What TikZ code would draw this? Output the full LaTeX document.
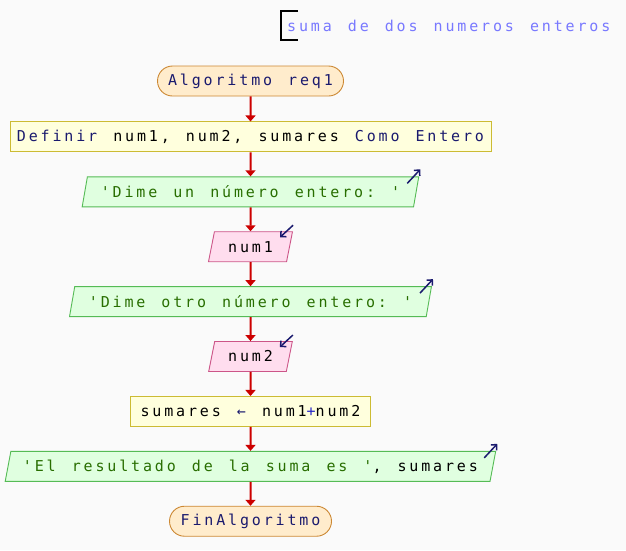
\documentclass[tikz,border=0pt]{standalone}
\usepackage{fontspec}
\setmonofont[LetterSpace=19,WordSpace=1.35]{DejaVu Sans Mono}
\usepackage{xcolor}
\usetikzlibrary{arrows.meta,positioning,shapes.geometric,shapes.misc}
\definecolor{paper}{RGB}{250,250,250}
\definecolor{termfill}{RGB}{255,236,204}
\definecolor{termdraw}{RGB}{204,136,51}
\definecolor{procfill}{RGB}{255,255,221}
\definecolor{procdraw}{RGB}{204,187,51}
\definecolor{outfill}{RGB}{224,255,224}
\definecolor{outdraw}{RGB}{85,187,85}
\definecolor{infill}{RGB}{255,221,238}
\definecolor{indraw}{RGB}{204,85,136}
\definecolor{flowred}{RGB}{204,0,0}
\definecolor{kwnavy}{RGB}{26,26,110}
\definecolor{strgreen}{RGB}{40,110,0}
\definecolor{notecol}{RGB}{120,120,255}
\definecolor{opblue}{RGB}{40,40,200}
\tikzset{
  base/.style={font=\ttfamily\fontsize{15}{17}\selectfont, text=black, minimum height=30pt, inner xsep=5pt, inner ysep=0pt, line width=0.9pt},
  terminal/.style={base, rounded rectangle, draw=termdraw, fill=termfill, text=kwnavy},
  process/.style={base, rectangle, draw=procdraw, fill=procfill},
  iobox/.style={base, trapezium, trapezium left angle=68, trapezium right angle=112, trapezium stretches=true},
  output/.style={iobox, draw=outdraw, fill=outfill, text=strgreen},
  input/.style={iobox, draw=indraw, fill=infill},
  line/.style={-{Triangle[width=10pt,length=6pt]}, draw=flowred, line width=2pt},
  icon/.style={-{Straight Barb[length=4pt,width=8pt]}, draw=kwnavy, line width=1.5pt},
  note_text/.style={font=\ttfamily\fontsize{15}{17}\selectfont, text=notecol, anchor=west, minimum height=29pt, inner xsep=6pt, inner ysep=0pt}
}

\begin{document}
\begin{tikzpicture}[x=1pt, y=-1pt, node distance=24pt]
  \fill[paper] (0,0) rectangle (626,550);
  \useasboundingbox (0,0) rectangle (626,550);

  % Comment
  \node[note_text] (note) at (281,25.5) {suma de dos numeros enteros};
  \draw[black, line width=1.5pt] ([xshift=17pt]note.north west) -- (note.north west) -- (note.south west) -- ([xshift=17pt]note.south west);

  % Flow
  \node[terminal, minimum width=196pt] (start) at (250.5,81) {Algoritmo req1};
  \node[process, minimum width=481pt, below=25pt of start] (defvars) {\textcolor{kwnavy}{Definir} num1, num2, sumares \textcolor{kwnavy}{Como Entero}};
  \node[output, minimum width=337pt, below=of defvars] (askone) {'Dime un número entero: '};
  \node[input, minimum width=84pt, below=of askone] (readone) {num1};
  \node[output, minimum width=362pt, below=of readone] (asktwo) {'Dime otro número entero: '};
  \node[input, minimum width=84pt, below=of asktwo] (readtwo) {num2};
  \node[process, minimum width=240pt, below=of readtwo] (addup) {sumares \textcolor{kwnavy}{←} num1\textcolor{opblue}{+}num2};
  \node[output, minimum width=493pt, below=of addup] (showsum) {'El resultado de la suma es '\textcolor{black}{, sumares}};
  \node[terminal, minimum width=172pt, below=of showsum] (finish) {FinAlgoritmo};

  % Edges
  \draw[line] (start) -- (defvars);
  \draw[line] (defvars) -- (askone);
  \draw[line] (askone) -- (readone);
  \draw[line] (readone) -- (asktwo);
  \draw[line] (asktwo) -- (readtwo);
  \draw[line] (readtwo) -- (addup);
  \draw[line] (addup) -- (showsum);
  \draw[line] (showsum) -- (finish);

  % I/O marks
  \draw[icon] ([shift={(-12pt,-7pt)}]askone.top right corner) -- ([shift={(1pt,7pt)}]askone.top right corner);
  \draw[icon] ([shift={(-12pt,-7pt)}]asktwo.top right corner) -- ([shift={(1pt,7pt)}]asktwo.top right corner);
  \draw[icon] ([shift={(-12pt,-7pt)}]showsum.top right corner) -- ([shift={(1pt,7pt)}]showsum.top right corner);
  \draw[icon] ([shift={(0pt,6pt)}]readone.top right corner) -- ([shift={(-13pt,-6pt)}]readone.top right corner);
  \draw[icon] ([shift={(0pt,6pt)}]readtwo.top right corner) -- ([shift={(-13pt,-6pt)}]readtwo.top right corner);
\end{tikzpicture}
\end{document}
